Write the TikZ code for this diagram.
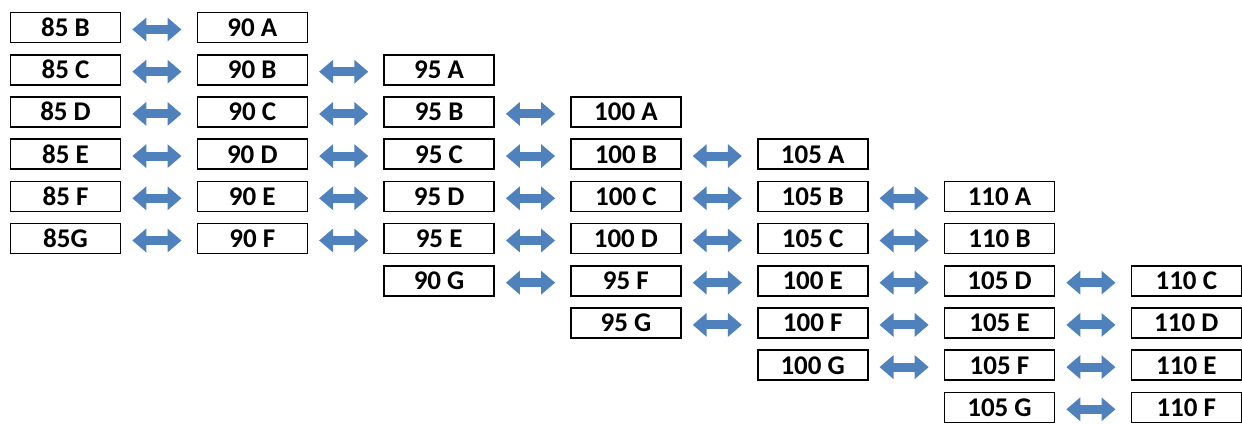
\documentclass[tikz,border=0pt]{standalone}
\usepackage{fontspec}
\setmainfont{Carlito}
\usetikzlibrary{arrows.meta}
\definecolor{arrowblue}{HTML}{4F81BD}
\tikzset{
  cell/.style={draw=black, line width=1.6pt, minimum width=110pt, minimum height=30pt,
    inner sep=0pt, text height=17pt, text depth=0pt,
    font=\fontsize{27}{27}\selectfont\bfseries, text=black},
  fatarrow/.style={draw=arrowblue, line width=9pt,
    {Triangle[length=14pt,width=23pt]}-{Triangle[length=14pt,width=23pt]},
    shorten <=11pt, shorten >=15pt}
}
\begin{document}
\begin{tikzpicture}[x=1pt,y=-1pt]
\useasboundingbox (0,0) rectangle (1242,423);
\begin{scope}
\clip (0,0) rectangle (1242,423);
\foreach \r/\c/\t in {
 0/0/85 B, 0/1/90 A,
 1/0/85 C, 1/1/90 B, 1/2/95 A,
 2/0/85 D, 2/1/90 C, 2/2/95 B, 2/3/100 A,
 3/0/85 E, 3/1/90 D, 3/2/95 C, 3/3/100 B, 3/4/105 A,
 4/0/85 F, 4/1/90 E, 4/2/95 D, 4/3/100 C, 4/4/105 B, 4/5/110 A,
 5/0/85G, 5/1/90 F, 5/2/95 E, 5/3/100 D, 5/4/105 C, 5/5/110 B,
 6/2/90 G, 6/3/95 F, 6/4/100 E, 6/5/105 D, 6/6/110 C,
 7/3/95 G, 7/4/100 F, 7/5/105 E, 7/6/110 D,
 8/4/100 G, 8/5/105 F, 8/6/110 E,
 9/5/105 G, 9/6/110 F}
{
  \node[cell] (n\r-\c) at ({65.5+186.8*\c},{27.5+42.2*\r}) {\raisebox{-0.5pt}{\t}};
}
\foreach \r/\a/\b in {
 0/0/1,
 1/0/1, 1/1/2,
 2/0/1, 2/1/2, 2/2/3,
 3/0/1, 3/1/2, 3/2/3, 3/3/4,
 4/0/1, 4/1/2, 4/2/3, 4/3/4, 4/4/5,
 5/0/1, 5/1/2, 5/2/3, 5/3/4, 5/4/5,
 6/2/3, 6/3/4, 6/4/5, 6/5/6,
 7/3/4, 7/4/5, 7/5/6,
 8/4/5, 8/5/6,
 9/5/6}
{
  \draw[fatarrow] ([yshift=-2pt]n\r-\a.east) -- ([yshift=-2pt]n\r-\b.west);
}
\end{scope}
\end{tikzpicture}
\end{document}
